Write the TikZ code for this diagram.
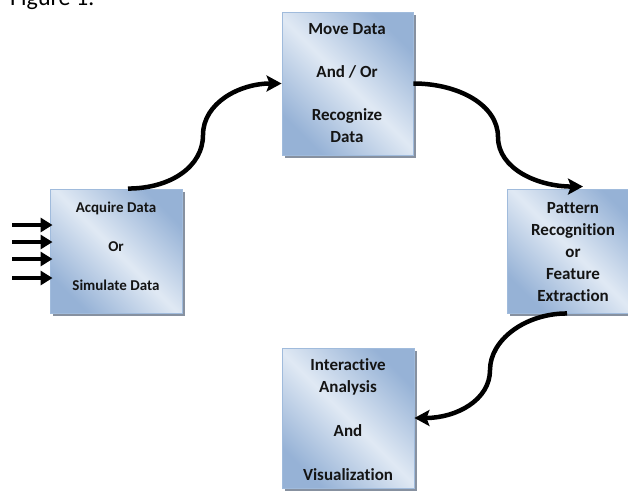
\documentclass[tikz,border=0pt]{standalone}
\usepackage{fontspec}
\setmainfont[Ligatures={NoCommon,NoContextual}]{Carlito}
\usetikzlibrary{arrows.meta,shadows}
\definecolor{boxlight}{RGB}{224,233,244}
\definecolor{boxdark}{RGB}{150,178,214}
\definecolor{boxedge}{RGB}{160,187,220}
\definecolor{shadowgray}{RGB}{135,145,160}
\definecolor{txt}{RGB}{20,20,20}
\begin{document}
\begin{tikzpicture}[x=1pt,y=-1pt,
  procbox/.style={draw=boxedge, line width=0.9pt,
    general shadow={fill=shadowgray, shadow xshift=3pt, shadow yshift=-3pt},
    top color=boxdark, bottom color=boxdark, middle color=boxlight, shading angle=-45,
    inner sep=0pt},
  boxtext/.style={align=center, text=txt, inner sep=0pt,
    font=\bfseries\fontsize{17}{21.5}\selectfont},
  flow/.style={line width=4.5pt, -{Stealth[length=15pt,width=16pt,inset=3pt]}},
  inarrow/.style={line width=4.5pt, -{Triangle[length=12pt,width=14pt]}},
]
\useasboundingbox (0,0) rectangle (628,490);

\node[anchor=base west, inner sep=0pt, font=\fontsize{24}{28}\selectfont] (fig) at (10,5.5) {Figure 1:};

% boxes
\node[procbox, minimum width=132pt, minimum height=124pt] (acq) at (116,251) {};
\node[procbox, minimum width=131pt, minimum height=143pt] (mov) at (347.5,83.5) {};
\node[procbox, minimum width=132pt, minimum height=124pt] (pat) at (573,251) {};
\node[procbox, minimum width=132pt, minimum height=140pt] (int) at (348,418) {};

% texts
\node[boxtext, font=\bfseries\fontsize{15}{19.6}\selectfont] (acqt) at (116,246)
  {Acquire Data\\[19.6pt]Or\\[19.6pt]Simulate Data};
\node[boxtext] (movt) at (347,83) {Move Data\\[21.5pt]And / Or\\[21.5pt]Recognize\\Data};
\node[boxtext, font=\bfseries\fontsize{17}{22.2}\selectfont] (patt) at (573,252)
  {Pattern\\Recognition\\or\\Feature\\Extraction};
\node[boxtext, font=\bfseries\fontsize{17}{22}\selectfont] (intt) at (348,420)
  {Interactive\\Analysis\\[22pt]And\\[22pt]Visualization};

% input arrows
\foreach \yy [count=\i] in {225,242,259,278} {
  \coordinate (in\i) at (12,\yy);
  \draw[inarrow, shorten >=-3pt] (in\i) -- (in\i -| acq.west);
}

% curved connectors
\coordinate (k1) at (203,135);
\coordinate (k2) at (498,137);
\coordinate (k3) at (490,370);

\draw[flow] ([xshift=12pt]acq.north) .. controls +(42,0) and +(0,32) .. (k1)
  .. controls +(0,-32) and +(-42,0) .. (mov.west);
\draw[flow] (mov.east) .. controls +(45,0) and +(0,-32) .. (k2)
  .. controls +(0,32) and +(-45,0) .. ([xshift=10pt,yshift=2pt]pat.north);
\draw[flow] ([xshift=-6pt]pat.south) .. controls +(-42,0) and +(0,-30) .. (k3)
  .. controls +(0,30) and +(42,0) .. (int.east);
\end{tikzpicture}
\end{document}
